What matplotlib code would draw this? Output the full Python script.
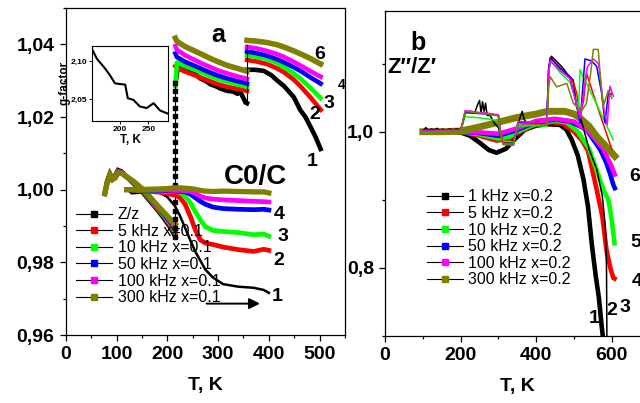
import matplotlib
matplotlib.use('Agg')
import matplotlib.pyplot as plt
from matplotlib.lines import Line2D
from matplotlib.ticker import MultipleLocator, FuncFormatter

plt.rcParams['font.family'] = ['Liberation Sans', 'DejaVu Sans']

colors = ['#000000', '#ff0000', '#00ff00', '#0000ff', '#ff00ff', '#808000']
labels_a = ['Z/z', '5 kHz x=0.1', '10 kHz x=0.1', '50 kHz x=0.1', '100 kHz x=0.1', '300 kHz x=0.1']
labels_b = ['1 kHz x=0.2', '5 kHz x=0.2', '10 kHz x=0.2', '50 kHz x=0.2', '100 kHz x=0.2', '300 kHz x=0.2']

# ---- panel a: Z/z, first run 77-216 K
t_low = [77, 82, 87, 92, 97, 103, 110, 120, 135, 150, 165, 180, 195, 205, 216]
low_k = [0.9988, 1.0025, 1.0044, 1.0030, 1.0038, 1.0054, 1.0050, 1.0035, 1.0015, 0.9995, 0.9970, 0.9945, 0.9918, 0.9898, 0.9870]
low_r = [0.9989, 1.0024, 1.0043, 1.0029, 1.0036, 1.0051, 1.0048, 1.0035, 1.0017, 0.9997, 0.9973, 0.9948, 0.9923, 0.9903, 0.9878]
low_g = [0.9989, 1.0023, 1.0042, 1.0029, 1.0035, 1.0050, 1.0047, 1.0035, 1.0018, 0.9999, 0.9976, 0.9951, 0.9926, 0.9908, 0.9884]
low_b = [0.9990, 1.0023, 1.0042, 1.0028, 1.0034, 1.0049, 1.0047, 1.0035, 1.0019, 1.0000, 0.9977, 0.9953, 0.9929, 0.9912, 0.9889]
low_m = [0.9990, 1.0022, 1.0041, 1.0028, 1.0033, 1.0048, 1.0046, 1.0036, 1.0020, 1.0001, 0.9979, 0.9955, 0.9932, 0.9916, 0.9895]
low_o = [0.9990, 1.0022, 1.0041, 1.0028, 1.0032, 1.0046, 1.0045, 1.0036, 1.0021, 1.0003, 0.9981, 0.9957, 0.9935, 0.9920, 0.9905]

# jump of the Z/z run at 216 K
jump_t = [216] * 19
jump_v = [0.9870, 0.9895, 0.9918, 0.9942, 0.9965, 0.9990, 1.0013, 1.0037, 1.0060, 1.0083, 1.0107,
          1.0130, 1.0155, 1.0178, 1.0202, 1.0225, 1.0250, 1.0272, 1.0295]

# second run 216-357 K
t_mid = [216, 219, 235, 252, 270, 285, 300, 318, 340, 357]
mid_r = [1.0340, 1.0335, 1.0325, 1.0316, 1.0306, 1.0298, 1.0290, 1.0283, 1.0277, 1.0272]
mid_g = [1.0285, 1.0350, 1.0340, 1.0331, 1.0321, 1.0312, 1.0304, 1.0297, 1.0289, 1.0283]
mid_b = [1.0375, 1.0365, 1.0352, 1.0342, 1.0331, 1.0322, 1.0314, 1.0306, 1.0298, 1.0292]
mid_m = [1.0395, 1.0385, 1.0370, 1.0358, 1.0346, 1.0337, 1.0328, 1.0320, 1.0311, 1.0305]
mid_o = [1.0417, 1.0408, 1.0394, 1.0383, 1.0371, 1.0361, 1.0352, 1.0342, 1.0333, 1.0326]
t_mid_k = [216, 220, 226, 235, 245, 255, 265, 275, 285, 295, 305, 318, 330, 338, 344, 350, 354, 357]
mid_k = [1.0290, 1.0330, 1.0340, 1.0330, 1.0322, 1.0318, 1.0306, 1.0300, 1.0290, 1.0285, 1.0278,
         1.0272, 1.0270, 1.0264, 1.0268, 1.0252, 1.0240, 1.0238]

# step of the Z/z run at 357 K
step_t = [357, 357]
step_v = [1.0238, 1.0397]

# third run 357-502 K
t_high = [357, 375, 396, 416, 429, 449, 462, 482, 495, 502]
high_r = [1.0357, 1.0353, 1.0346, 1.0334, 1.0324, 1.0303, 1.0285, 1.0254, 1.0232, 1.0220]
high_g = [1.0370, 1.0366, 1.0360, 1.0349, 1.0338, 1.0320, 1.0306, 1.0280, 1.0262, 1.0252]
high_b = [1.0380, 1.0376, 1.0369, 1.0359, 1.0351, 1.0337, 1.0327, 1.0309, 1.0298, 1.0292]
high_m = [1.0393, 1.0389, 1.0382, 1.0373, 1.0366, 1.0352, 1.0342, 1.0326, 1.0316, 1.0311]
high_o = [1.0411, 1.0409, 1.0405, 1.0399, 1.0393, 1.0382, 1.0374, 1.0361, 1.0351, 1.0346]
t_high_k = [357, 372, 390, 405, 416, 430, 449, 462, 472, 482, 492, 502]
high_k = [1.0330, 1.0330, 1.0327, 1.0315, 1.0301, 1.0285, 1.0255, 1.0219, 1.0200, 1.0173, 1.0145, 1.0112]

# C0/C, 120-400 K
t_c = [120, 125, 130, 140, 160, 185, 200, 215, 225, 235, 245, 255, 265, 275, 290, 310, 340, 370, 390, 400]
c_k = [1.0003, 0.9996, 0.9990, 0.9991, 0.9995, 0.9992, 0.9980, 0.9955, 0.9928, 0.9895, 0.9862, 0.9830,
       0.9805, 0.9780, 0.9758, 0.9740, 0.9733, 0.9730, 0.9724, 0.9716]
c_r = [1.0000, 1.0000, 0.9999, 0.9998, 0.9996, 0.9993, 0.9989, 0.9985, 0.9978, 0.9960, 0.9928, 0.9890,
       0.9862, 0.9853, 0.9849, 0.9842, 0.9835, 0.9830, 0.9836, 0.9833]
c_g = [1.0000, 1.0000, 1.0000, 0.9999, 0.9998, 0.9997, 0.9995, 0.9995, 0.9993, 0.9982, 0.9965, 0.9940,
       0.9917, 0.9898, 0.9888, 0.9885, 0.9882, 0.9876, 0.9878, 0.9872]
c_b = [1.0000, 1.0000, 1.0000, 1.0000, 0.9999, 0.9998, 0.9997, 0.9996, 0.9995, 0.9994, 0.9988, 0.9978,
       0.9968, 0.9960, 0.9952, 0.9948, 0.9946, 0.9945, 0.9946, 0.9944]
c_m = [1.0000, 1.0000, 1.0000, 1.0000, 1.0000, 0.9999, 0.9999, 0.9998, 0.9998, 0.9997, 0.9996, 0.9990,
       0.9982, 0.9977, 0.9974, 0.9972, 0.9970, 0.9968, 0.9967, 0.9966]
c_o = [1.0000, 1.0000, 1.0000, 1.0000, 1.0001, 1.0002, 1.0003, 1.0005, 1.0005, 1.0004, 1.0003, 1.0001,
       0.9998, 0.9996, 0.9995, 0.9996, 0.9995, 0.9994, 0.9994, 0.9991]

# inset: g-factor vs T
g_t = [151, 159, 173.5, 182, 191, 206, 209, 213.5, 223.5, 235, 247, 259, 270.6, 285]
g_v = [2.1149, 2.1030, 2.0900, 2.0813, 2.0705, 2.0690, 2.0690, 2.0510, 2.0487, 2.0400, 2.0380, 2.0444, 2.0347, 2.0304]

# ---- panel b: Z''/Z', x=0.2 (thick)
tb_k = [100, 150, 200, 225, 250, 275, 295, 320, 345, 370, 400, 430, 463, 480, 494, 510, 525, 537, 547, 557, 566, 573, 576]
vb_k = [1.000, 1.000, 0.999, 0.994, 0.984, 0.973, 0.969, 0.975, 0.990, 1.003, 1.009, 1.011, 1.010, 1.003,
        0.988, 0.965, 0.930, 0.890, 0.835, 0.790, 0.755, 0.715, 0.700]
tb_r = [100, 150, 200, 250, 295, 325, 350, 400, 440, 470, 500, 520, 537, 560, 575, 586, 596, 604, 607]
vb_r = [1.000, 1.000, 1.000, 0.994, 0.987, 0.989, 0.998, 1.011, 1.014, 1.012, 1.000, 0.988, 0.972, 0.915,
        0.875, 0.826, 0.800, 0.785, 0.784]
tb_g = [100, 150, 200, 250, 300, 330, 350, 400, 450, 480, 510, 540, 565, 580, 591, 600, 607]
vb_g = [1.000, 1.000, 1.000, 0.996, 0.990, 0.993, 1.000, 1.012, 1.016, 1.014, 1.000, 0.975, 0.935, 0.912,
        0.900, 0.870, 0.836]
tb_b = [100, 150, 200, 250, 300, 350, 400, 450, 490, 533, 569, 585, 595, 604, 608]
vb_b = [1.000, 1.000, 1.000, 0.998, 0.994, 1.003, 1.014, 1.018, 1.015, 1.003, 0.974, 0.955, 0.939, 0.922, 0.917]
tb_m = [100, 150, 200, 250, 300, 350, 400, 450, 500, 540, 578, 592, 600, 608]
vb_m = [1.000, 1.000, 1.000, 0.999, 0.997, 1.005, 1.016, 1.019, 1.015, 1.000, 0.974, 0.958, 0.948, 0.937]
tb_o = [100, 150, 200, 250, 300, 350, 400, 430, 475, 500, 516, 540, 560, 585, 608]
vb_o = [1.000, 1.000, 1.001, 1.007, 1.014, 1.021, 1.026, 1.030, 1.030, 1.026, 1.020, 1.008, 0.993, 0.978, 0.964]

# panel b: second measurement (thin lines)
ts_k = [100, 108, 115, 122, 130, 138, 145, 152, 160, 170, 180, 190, 200, 205, 212, 225, 238, 245, 250, 254,
        258, 262, 266, 270, 278, 290, 300, 305, 312, 325, 338, 345, 352, 358, 363, 368, 375, 390, 405, 420,
        428, 433, 440, 455, 470, 485, 498, 507, 516, 525, 540, 560, 575, 583, 586, 587]
vs_k = [1.001, 1.006, 1.002, 1.004, 1.003, 1.005, 1.002, 1.004, 1.002, 1.004, 1.003, 1.004, 1.003, 1.012,
        1.028, 1.030, 1.029, 1.040, 1.046, 1.028, 1.044, 1.030, 1.042, 1.024, 1.024, 1.012, 1.006, 0.995,
        0.985, 0.984, 0.984, 0.990, 1.010, 1.022, 1.030, 1.018, 1.013, 1.012, 1.015, 1.010, 1.012, 1.095,
        1.111, 1.103, 1.094, 1.083, 1.076, 1.037, 1.022, 1.005, 0.974, 0.945, 0.905, 0.860, 0.800, 0.700]
ts_r = [100, 200, 205, 212, 240, 270, 300, 305, 312, 340, 345, 352, 390, 428, 433, 441, 472, 489, 500, 507,
        516, 525, 533, 560, 600]
vs_r = [1.002, 1.003, 1.012, 1.029, 1.028, 1.027, 1.024, 1.000, 0.983, 0.982, 0.995, 1.013, 1.012, 1.011,
        1.090, 1.108, 1.089, 1.081, 1.070, 1.057, 1.025, 1.045, 1.086, 1.040, 0.974]
ts_g = [100, 200, 205, 212, 240, 270, 300, 305, 312, 340, 345, 352, 390, 428, 433, 437, 463, 489, 500, 507,
        512, 516, 560, 604]
vs_g = [1.000, 1.001, 1.010, 1.022, 1.021, 1.019, 1.016, 0.998, 0.986, 0.985, 0.995, 1.008, 1.009, 1.008,
        1.085, 1.106, 1.087, 1.073, 1.055, 1.043, 1.030, 1.091, 1.040, 0.988]
ts_b = [100, 200, 205, 212, 240, 270, 300, 305, 312, 340, 345, 352, 390, 428, 433, 437, 463, 489, 502, 516,
        529, 547, 560, 573, 582, 591, 600]
vs_b = [1.001, 1.002, 1.012, 1.028, 1.027, 1.026, 1.024, 1.000, 0.982, 0.981, 0.996, 1.014, 1.013, 1.012,
        1.092, 1.109, 1.093, 1.081, 1.052, 1.013, 1.107, 1.104, 1.096, 1.057, 1.013, 1.057, 1.055]
ts_m = [100, 200, 205, 212, 240, 270, 300, 305, 312, 340, 345, 352, 390, 428, 433, 437, 463, 489, 502, 516,
        535, 551, 565, 580, 588, 595, 604]
vs_m = [1.001, 1.002, 1.013, 1.031, 1.029, 1.027, 1.025, 1.001, 0.983, 0.982, 0.997, 1.015, 1.014, 1.013,
        1.090, 1.104, 1.090, 1.078, 1.050, 1.020, 1.095, 1.107, 1.100, 1.030, 1.010, 1.067, 1.052]
ts_o = [100, 200, 205, 212, 240, 270, 300, 305, 312, 340, 345, 352, 390, 428, 433, 437, 454, 481, 498, 507,
        520, 533, 545, 551, 564, 569, 577, 591, 600]
vs_o = [1.000, 1.001, 1.011, 1.030, 1.028, 1.026, 1.023, 0.999, 0.981, 0.980, 0.994, 1.012, 1.011, 1.010,
        1.065, 1.081, 1.066, 1.071, 1.042, 1.037, 1.030, 1.042, 1.090, 1.121, 1.121, 1.086, 1.037, 1.061, 1.049]


def comma(fmt):
    return FuncFormatter(lambda v, p: format(v, fmt).replace('.', ','))


def style_axis(ax, xmaj, xmin, ymaj, ymin, yfmt):
    ax.xaxis.set_major_locator(MultipleLocator(xmaj))
    ax.xaxis.set_minor_locator(MultipleLocator(xmin))
    ax.yaxis.set_major_locator(MultipleLocator(ymaj))
    ax.yaxis.set_minor_locator(MultipleLocator(ymin))
    ax.yaxis.set_major_formatter(comma(yfmt))
    ax.tick_params(which='major', direction='out', length=4, width=0.9, labelsize=14, pad=4)
    ax.tick_params(which='minor', direction='out', length=2.2, width=0.9)
    for lab in ax.get_xticklabels() + ax.get_yticklabels():
        lab.set_fontweight('bold')
    for s in ax.spines.values():
        s.set_linewidth(0.9)


fig = plt.figure(figsize=(6.4, 4.03), dpi=100)

# ---------------- panel a
ax = fig.add_axes([0.1027, 0.1687, 0.4364, 0.8114])
ax.set_xlim(0, 550)
ax.set_ylim(0.96, 1.05)

lows = [low_k, low_r, low_g, low_b, low_m, low_o]
mids = [mid_k, mid_r, mid_g, mid_b, mid_m, mid_o]
highs = [high_k, high_r, high_g, high_b, high_m, high_o]
cs = [c_k, c_r, c_g, c_b, c_m, c_o]

for i, col in enumerate(colors):
    lw = 4.0 if i == 5 else 3.3
    ax.plot(t_low, lows[i], color=col, lw=lw, solid_joinstyle='miter')
for i, col in enumerate(colors):
    lw = 4.0 if i == 5 else 3.3
    ax.plot(t_mid_k if i == 0 else t_mid, mids[i], color=col, lw=lw)
    ax.plot(t_high_k if i == 0 else t_high, highs[i], color=col, lw=lw)
ax.plot(jump_t, jump_v, color='k', lw=0.8, marker='s', ms=3.2, mec='k', mfc='k')
ax.plot(step_t, step_v, color='k', lw=0.8)
for i, col in enumerate(colors):
    if i == 0:
        ax.plot(t_c, cs[i], color=col, lw=1.8)
    else:
        ax.plot(t_c, cs[i], color=col, lw=3.4 if i < 5 else 3.8)

ax.annotate('', xy=(388, 0.96864), xytext=(272, 0.96864),
            arrowprops=dict(arrowstyle='-|>', color='k', lw=1.4, mutation_scale=16))

style_axis(ax, 100, 50, 0.02, 0.01, '.2f')
ax.set_xlabel('T, K', fontsize=14, fontweight='bold', labelpad=10)

ax.text(300, 1.0426, 'a', fontsize=18, fontweight='bold', ha='center', va='center')
ax.text(373, 1.0036, 'C0/C', fontsize=20, fontweight='bold', ha='center', va='center')
for txt, x, y, fs in [('6', 500, 1.0371, 14), ('3', 519, 1.0237, 14), ('4', 544, 1.0289, 10),
                      ('2', 490, 1.0206, 14), ('1', 486, 1.0077, 14),
                      ('4', 421, 0.9931, 14), ('3', 427, 0.9871, 14), ('2', 419, 0.9805, 14),
                      ('1', 417, 0.9706, 14)]:
    ax.text(x, y, txt, fontsize=fs, fontweight='bold', ha='center', va='center')

handles = [Line2D([0], [0], color='k', lw=0.8, marker='s', ms=4, mfc=c, mec=c) for c in colors]
ax.legend(handles, labels_a, loc='upper left', bbox_to_anchor=(0.119, 0.486),
          bbox_transform=fig.transFigure, frameon=False, borderpad=0, borderaxespad=0,
          handlelength=2.25, handletextpad=0.35, labelspacing=0.1, fontsize=11.5)

# inset
ins = fig.add_axes([0.1442, 0.6998, 0.1188, 0.1868])
ins.plot(g_t, g_v, color='k', lw=1.5)
ins.set_xlim(151, 285)
ins.set_ylim(2.021, 2.12)
ins.xaxis.set_major_locator(MultipleLocator(50))
ins.yaxis.set_major_locator(MultipleLocator(0.05))
ins.yaxis.set_major_formatter(comma('.2f'))
ins.tick_params(direction='out', length=2, width=0.7, labelsize=6, pad=1.5)
for lab in ins.get_xticklabels() + ins.get_yticklabels():
    lab.set_fontweight('bold')
for s in ins.spines.values():
    s.set_linewidth(0.8)
ins.set_xlabel('T, K', fontsize=8.5, fontweight='bold', labelpad=1)
ins.set_ylabel('g-factor', fontsize=8.5, fontweight='bold', labelpad=0.5)

# ---------------- panel b
bx = fig.add_axes([0.6016, 0.167, 0.4134, 0.8065])
bx.set_xlim(0, 700)
bx.set_ylim(0.70, 1.178)

thick_t = [tb_k, tb_r, tb_g, tb_b, tb_m, tb_o]
thick_v = [vb_k, vb_r, vb_g, vb_b, vb_m, vb_o]
thin_t = [ts_k, ts_r, ts_g, ts_b, ts_m, ts_o]
thin_v = [vs_k, vs_r, vs_g, vs_b, vs_m, vs_o]

for i, col in enumerate(colors):
    bx.plot(thick_t[i], thick_v[i], color=col, lw=5.0 if i == 5 else 3.3)
for i, col in enumerate(colors):
    bx.plot(thin_t[i], thin_v[i], color=col, lw=1.1)

style_axis(bx, 200, 100, 0.2, 0.1, '.1f')
bx.set_xlabel('T, K', fontsize=14, fontweight='bold', labelpad=10)

bx.text(87, 1.131, 'b', fontsize=18, fontweight='bold', ha='center', va='center')
bx.text(5, 1.094, 'Z\u2033/Z\u2032', fontsize=16, fontweight='bold', ha='left', va='center')
for txt, x, y in [('6', 661, 0.934), ('5', 664, 0.837), ('4', 667, 0.779),
                  ('3', 635, 0.741), ('2', 600, 0.737), ('1', 553, 0.726)]:
    bx.text(x, y, txt, fontsize=14, fontweight='bold', ha='center', va='center', clip_on=False)

bx.legend(handles, labels_b, loc='upper left', bbox_to_anchor=(0.667, 0.530),
          bbox_transform=fig.transFigure, frameon=False, borderpad=0, borderaxespad=0,
          handlelength=2.25, handletextpad=0.35, labelspacing=0.1, fontsize=11.5)

fig.savefig('out.png', dpi=100)
